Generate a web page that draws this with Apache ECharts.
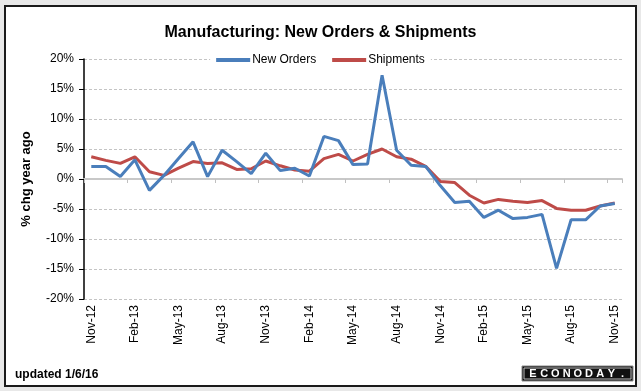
<!DOCTYPE html>
<html>
<head>
<meta charset="utf-8">
<script src="https://cdn.jsdelivr.net/npm/echarts@6/dist/echarts.min.js"></script>
<style>
html,body{margin:0;padding:0;background:#e8e8e8;}
#c{width:641px;height:391px;}
</style>
</head>
<body>
<div id="c"></div>
<script>
var categories = ["Nov-12","Dec-12","Jan-13","Feb-13","Mar-13","Apr-13","May-13","Jun-13","Jul-13","Aug-13","Sep-13","Oct-13",
"Nov-13","Dec-13","Jan-14","Feb-14","Mar-14","Apr-14","May-14","Jun-14","Jul-14","Aug-14","Sep-14","Oct-14",
"Nov-14","Dec-14","Jan-15","Feb-15","Mar-15","Apr-15","May-15","Jun-15","Jul-15","Aug-15","Sep-15","Oct-15","Nov-15"];
var newOrders = [2.1,2.1,0.4,3.2,-1.9,0.6,3.4,6.2,0.4,4.8,2.9,0.9,
4.3,1.4,1.8,0.5,7.1,6.4,2.4,2.5,17.3,4.8,2.3,2.1,
-1.1,-3.9,-3.7,-6.4,-5.2,-6.6,-6.4,-5.9,-14.9,-6.8,-6.8,-4.5,-4.1];
var shipments = [3.7,3.1,2.6,3.7,1.2,0.6,1.8,2.9,2.6,2.7,1.6,1.7,
3.0,2.2,1.5,1.3,3.4,4.1,3.0,4.1,5.0,3.7,3.3,2.1,
-0.4,-0.6,-2.7,-4.0,-3.4,-3.7,-3.9,-3.6,-4.9,-5.2,-5.2,-4.5,-4.0];
var yTicks = [-20,-15,-10,-5,0,5,10,15,20];

var narrow = '"Liberation Sans Narrow","Arial Narrow","Liberation Sans",Arial,sans-serif';
var sans = '"Liberation Sans",Arial,sans-serif';

var graphics = [
  {type:'rect', z:-10, shape:{x:5,y:6,width:631,height:380}, style:{fill:'#ffffff', stroke:'#1a1a1a', lineWidth:2}},
  {type:'text', left:15, top:369, style:{text:'updated 1/6/16', font:'bold 12px '+narrow, fill:'#000'}},
  {type:'rect', shape:{x:522,y:366,width:111,height:15}, style:{fill:'#111', stroke:'#888', lineWidth:1}},
  {type:'rect', shape:{x:524,y:368,width:107,height:11}, style:{fill:'none', stroke:'#bbb', lineWidth:1}}
];
var logo = 'ECONODAY.';
for (var k = 0; k < logo.length; k++) {
  graphics.push({type:'text', x:533 + k*11.2, y:374,
    style:{text:logo[k], font:'bold 11px '+sans, fill:'#fff', align:'center', verticalAlign:'middle'}});
}

var chart = echarts.init(document.getElementById('c'), null, {renderer:'canvas'});
chart.setOption({
  animation:false,
  backgroundColor:'#e8e8e8',
  graphic:graphics,
  title:{
    text:'Manufacturing: New Orders & Shipments',
    left:'center', top:20,
    textStyle:{fontFamily:narrow, fontSize:16, fontWeight:'bold', color:'#000'}
  },
  legend:{
    data:['New Orders','Shipments'],
    top:52, left:'center',
    icon:'rect', itemWidth:34, itemHeight:4, itemGap:16,
    backgroundColor:'#ffffff', padding:[2,6],
    textStyle:{fontFamily:narrow, fontSize:12, color:'#000', padding:[0,0,0,-3]}
  },
  grid:{left:84, right:19, top:59, bottom:92},
  xAxis:[
    {type:'category', data:categories, boundaryGap:true, position:'bottom',
     axisLine:{show:true, onZero:true, lineStyle:{color:'#c8c8c8', width:2}},
     axisTick:{show:true, interval:2, length:4, lineStyle:{color:'#c0c0c0'}},
     axisLabel:{show:false}, splitLine:{show:false}},
    {type:'category', data:categories, boundaryGap:true, position:'bottom',
     axisLine:{show:false, onZero:false}, axisTick:{show:false},
     axisLabel:{show:true, interval:2, rotate:90, margin:6, fontFamily:sans, fontSize:12, color:'#000'},
     splitLine:{show:false}}
  ],
  yAxis:{
    type:'value', min:-20, max:20, interval:5,
    name:'% chg year ago', nameLocation:'middle', nameGap:51,
    nameTextStyle:{fontFamily:narrow, fontSize:13, fontWeight:'bold', color:'#000'},
    axisLine:{show:true, lineStyle:{color:'#000', width:1.5}},
    axisTick:{show:true, length:5, lineStyle:{color:'#000'}},
    axisLabel:{fontFamily:sans, fontSize:12, color:'#000', margin:10,
      formatter:function(v){ return yTicks.indexOf(v)>=0 ? v+'%' : ''; }},
    splitLine:{show:true, lineStyle:{color:'#c4c4c4', type:[3,2], width:1}}
  },
  series:[
    {name:'New Orders', type:'line', data:newOrders, xAxisIndex:0, symbol:'none',
     lineStyle:{color:'#4a7ebb', width:3}, itemStyle:{color:'#4a7ebb'}, z:3},
    {name:'Shipments', type:'line', data:shipments, xAxisIndex:0, symbol:'none',
     lineStyle:{color:'#be4b48', width:3}, itemStyle:{color:'#be4b48'}, z:2}
  ]
});
</script>
</body>
</html>
